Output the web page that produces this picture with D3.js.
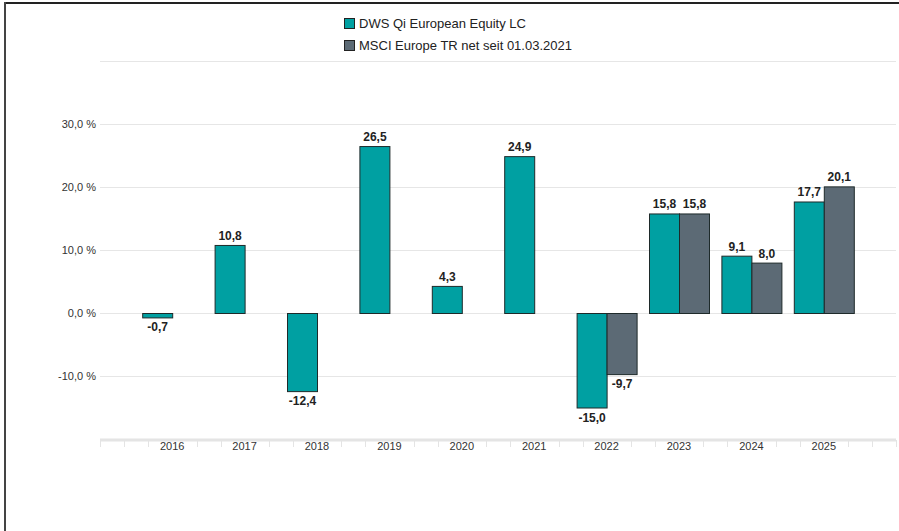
<!DOCTYPE html>
<html><head><meta charset="utf-8">
<script src="https://cdn.jsdelivr.net/npm/d3@7"></script>
<style>body{margin:0;background:#fff}svg{display:block;font-family:"Liberation Sans",Arial,sans-serif}</style>
</head><body>
<script>
const years = ["2016","2017","2018","2019","2020","2021","2022","2023","2024","2025"];
const fund = [-0.7,10.8,-12.4,26.5,4.3,24.9,-15.0,15.8,9.1,17.7];
const bench = [null,null,null,null,null,null,-9.7,15.8,8.0,20.1];
const seriesNames = ["DWS Qi European Equity LC","MSCI Europe TR net seit 01.03.2021"];
const yTicks = [-10,0,10,20,30];
const gridTicks = [-20,-10,0,10,20,30,40];
const colors = ["#00a0a2","#5c6a75"];

const W=899,H=531;
const svg=d3.select("body").append("svg").attr("width",W).attr("height",H);
const fmt=v=>d3.format(".1f")(v).replace("\u2212","-").replace(".",",");

// frame
svg.append("line").attr("x1",5).attr("x2",W).attr("y1",3).attr("y2",3).attr("stroke","#222").attr("stroke-width",2);
svg.append("line").attr("x1",5).attr("x2",5).attr("y1",2).attr("y2",H).attr("stroke","#444").attr("stroke-width",2);

const x=d3.scaleBand().domain(years).range([136,860]).padding(0);
const y=d3.scaleLinear().domain([-20,40]).range([439,61]);
const step=x.step(), bw=30;

// gridlines
svg.append("g").selectAll("line").data(gridTicks.filter(d=>d>-20)).join("line")
 .attr("x1",100).attr("x2",896).attr("y1",d=>Math.round(y(d))+0.5).attr("y2",d=>Math.round(y(d))+0.5)
 .attr("stroke","#e6e6e6").attr("stroke-width",1);

// y labels
svg.append("g").selectAll("text").data(yTicks).join("text")
 .attr("x",96).attr("y",d=>y(d)+4).attr("text-anchor","end")
 .attr("font-size",11).attr("fill","#333")
 .text(d=>fmt(d)+" %");

// x axis line and ticks
svg.append("line").attr("x1",100).attr("x2",896).attr("y1",440).attr("y2",440).attr("stroke","#e4e4e4").attr("stroke-width",3);
const minor=d3.range(0,34).filter(k=>k%3!==0).map(k=>100+k*step/3).concat([100,896]);
svg.append("g").selectAll("line").data(minor).join("line")
 .attr("x1",d=>Math.round(d)+0.5).attr("x2",d=>Math.round(d)+0.5).attr("y1",440).attr("y2",447)
 .attr("stroke","#e4e4e4").attr("stroke-width",1);
svg.append("g").selectAll("text").data(years).join("text")
 .attr("x",d=>x(d)+step/2).attr("y",450).attr("text-anchor","middle")
 .attr("font-size",11).attr("fill","#333").text(d=>d);

// bars
const data=[];
years.forEach((yr,i)=>{
  data.push({yr,v:fund[i],s:0});
  if(bench[i]!==null) data.push({yr,v:bench[i],s:1});
});
const cx=d=>x(d.yr)+step/2+(d.s===0?-bw:0);
svg.append("g").selectAll("rect").data(data).join("rect")
 .attr("x",d=>cx(d)+0.5).attr("width",bw)
 .attr("y",d=>Math.min(y(d.v),y(0))+0.5).attr("height",d=>Math.abs(y(d.v)-y(0)))
 .attr("fill",d=>colors[d.s]).attr("stroke","#1e2a2a").attr("stroke-width",1);
svg.append("g").selectAll("text").data(data).join("text")
 .attr("x",d=>cx(d)+bw/2+0.5).attr("y",d=>d.v>=0?y(d.v)-5:y(d.v)+14)
 .attr("text-anchor","middle").attr("font-size",12).attr("font-weight","bold").attr("fill","#222")
 .text(d=>fmt(d.v));

// legend
const lg=svg.append("g");
seriesNames.forEach((n,i)=>{
  lg.append("rect").attr("x",344.5).attr("y",18.5+i*22).attr("width",10).attr("height",10)
    .attr("fill",colors[i]).attr("stroke","#222").attr("stroke-width",1);
  lg.append("text").attr("x",359).attr("y",28+i*22).attr("font-size",13).attr("fill","#222").text(n);
});
</script>
</body></html>
